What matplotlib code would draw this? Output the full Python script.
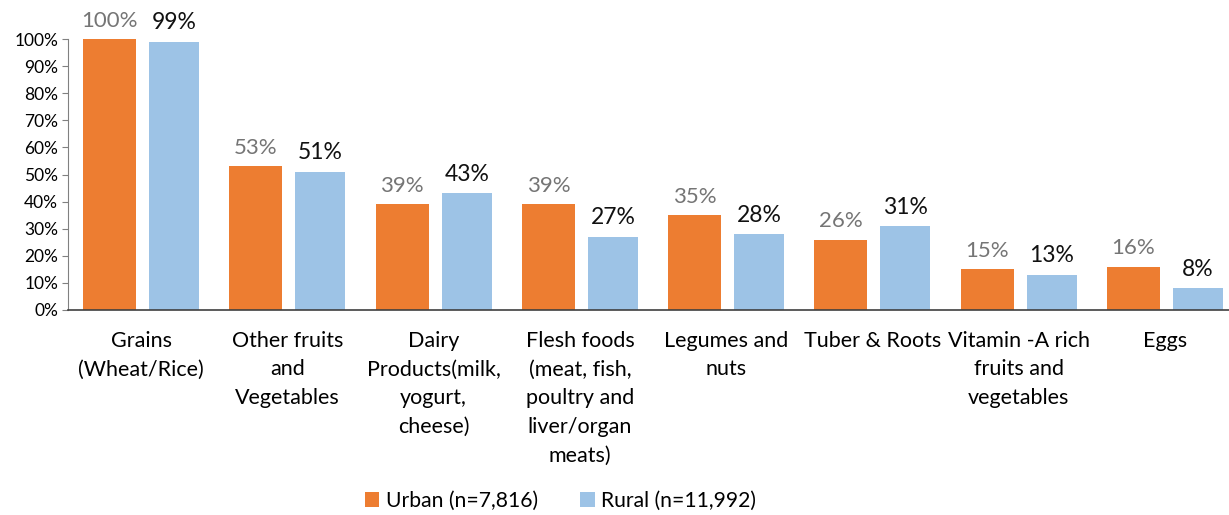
import matplotlib

matplotlib.use("Agg")

import matplotlib.pyplot as plt
import numpy as np
from matplotlib.ticker import PercentFormatter

categories = [
    "Grains\n(Wheat/Rice)",
    "Other fruits\nand\nVegetables",
    "Dairy\nProducts(milk,\nyogurt,\ncheese)",
    "Flesh foods\n(meat, fish,\npoultry and\nliver/organ\nmeats)",
    "Legumes and\nnuts",
    "Tuber & Roots",
    "Vitamin -A rich\nfruits and\nvegetables",
    "Eggs",
]
urban = [100, 53, 39, 39, 35, 26, 15, 16]
rural = [99, 51, 43, 27, 28, 31, 13, 8]
series_names = ["Urban (n=7,816)", "Rural (n=11,992)"]

plt.rcParams["font.family"] = ["Lato", "DejaVu Sans"]

fig = plt.figure(figsize=(12.29, 5.15), dpi=100)
# axes runs a little past the right edge, as in the original layout
ax = fig.add_axes([68 / 1229, 205 / 515, 1170 / 1229, 271 / 515])

x = np.arange(len(categories))
b1 = ax.bar(x - 0.215, urban, 0.363, color="#ED7D31", label=series_names[0], zorder=2)
b2 = ax.bar(x + 0.226, rural, 0.342, color="#9DC3E6", label=series_names[1], zorder=2)

for rect, v in zip(b1, urban):
    ax.annotate(f"{v}%", (rect.get_x() + rect.get_width() / 2, v), xytext=(0, 6),
                textcoords="offset points", ha="center", va="bottom",
                fontsize=16, color="#757575")
for rect, v in zip(b2, rural):
    ax.annotate(f"{v}%", (rect.get_x() + rect.get_width() / 2, v), xytext=(0, 6),
                textcoords="offset points", ha="center", va="bottom",
                fontsize=16.5, color="#111111")

ax.set_xlim(-0.5, len(categories) - 0.5)
ax.set_ylim(0, 100)
ax.set_yticks(np.arange(0, 101, 10))
ax.yaxis.set_major_formatter(PercentFormatter(decimals=0))
ax.tick_params(axis="y", labelsize=12.5, length=4, color="#808080", pad=3)
ax.set_xticks(x)
ax.set_xticklabels(categories, fontsize=15.5, linespacing=1.54, va="top")
ax.tick_params(axis="x", length=0, pad=15)

for side in ["top", "right"]:
    ax.spines[side].set_visible(False)
ax.spines["left"].set_color("#808080")
ax.spines["bottom"].set_color("#404040")
ax.spines["bottom"].set_linewidth(1.2)

fig.legend(handles=[b1, b2], loc="center", bbox_to_anchor=(0.456, 0.027),
           ncol=2, frameon=False, fontsize=15.2, handlelength=0.7, handleheight=0.7,
           handletextpad=0.3, columnspacing=2.0)

fig.savefig("out.png", dpi=100)
